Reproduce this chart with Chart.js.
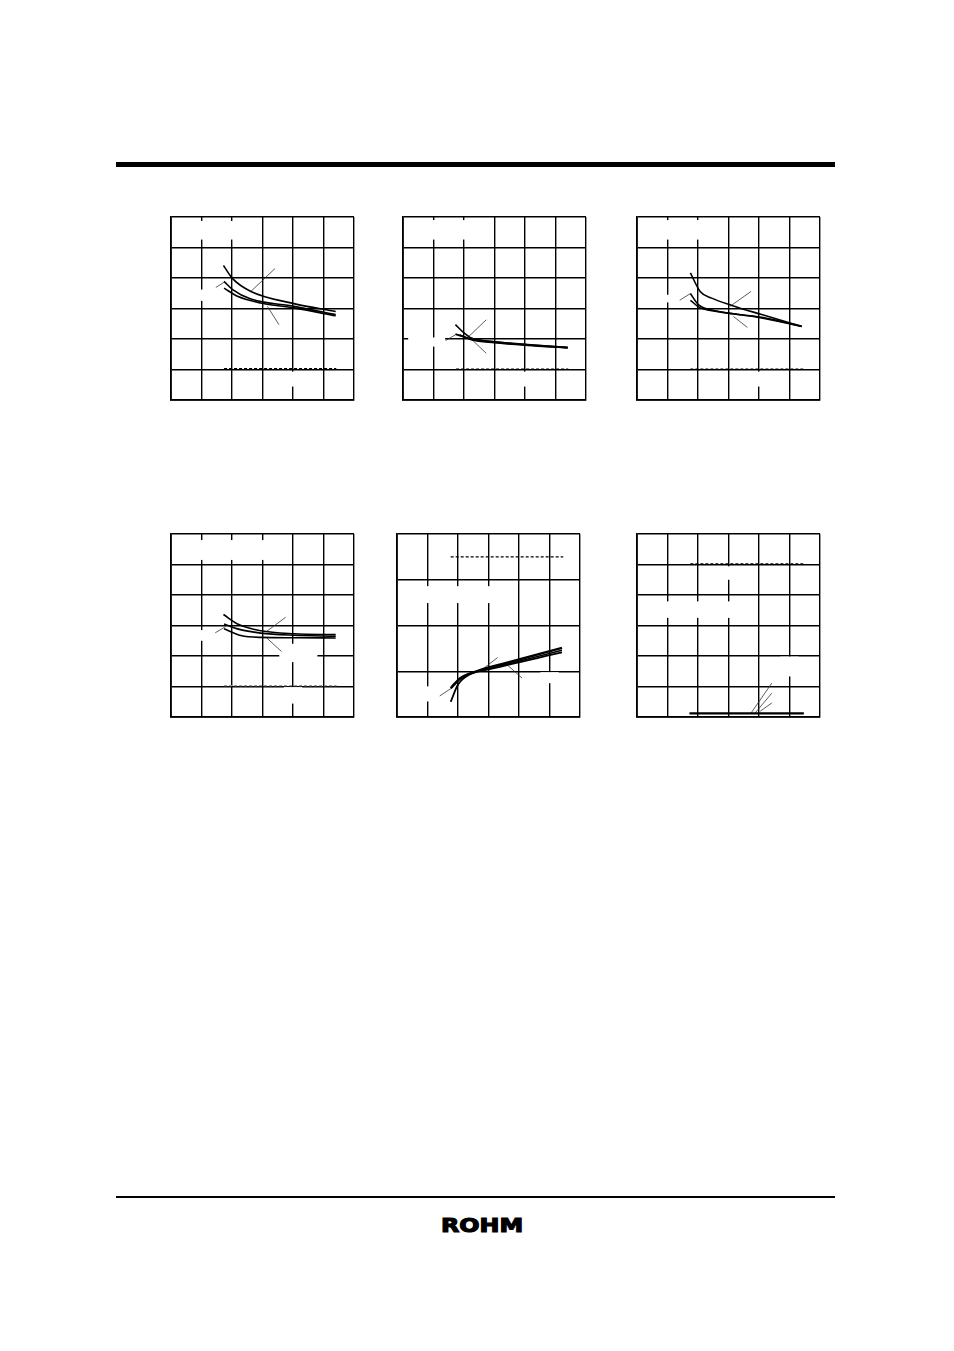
<!DOCTYPE html>
<html>
<head>
<meta charset="utf-8">
<script src="https://cdn.jsdelivr.net/npm/chart.js@4.4.1/dist/chart.umd.min.js"></script>
<style>
  html, body { margin: 0; padding: 0; background: #fff; }
  body { width: 954px; height: 1351px; position: relative; overflow: hidden; }
  .rule { position: absolute; background: #000; }
  .box { position: absolute; width: 191px; height: 191px; }
  .logo { position: absolute; left: 441px; top: 1213px; font: bold 20px "DejaVu Sans", sans-serif;
          -webkit-text-stroke: 1.2px #000; color: #000; transform: scaleX(1.19); transform-origin: left top;
          line-height: normal; }
</style>
</head>
<body>
<div class="rule" style="left:116px; top:162px; width:719px; height:5px;"></div>
<div class="rule" style="left:116px; top:1196px; width:719px; height:2px;"></div>
<div class="logo">ROHM</div>

<div class="box" style="left:167px; top:213px;"><canvas id="c1"></canvas></div>
<div class="box" style="left:399px; top:213px;"><canvas id="c2"></canvas></div>
<div class="box" style="left:633px; top:213px;"><canvas id="c3"></canvas></div>
<div class="box" style="left:167px; top:530px;"><canvas id="c4"></canvas></div>
<div class="box" style="left:393px; top:530px;"><canvas id="c5"></canvas></div>
<div class="box" style="left:633px; top:530px;"><canvas id="c6"></canvas></div>

<script>
// all values in grid units (6 divisions per axis, chart 5 has 4 rows)

// chart 1
var c1TopX = [1.72, 2.02, 2.62, 4.03, 5.40];
var c1TopY = [4.41, 3.98, 3.56, 3.16, 2.90];
var c1MidX = [1.74, 2.02, 2.62, 4.03, 5.40];
var c1MidY = [3.89, 3.62, 3.31, 3.07, 2.80];
var c1LowX = [1.74, 2.18, 2.94, 4.03, 5.40];
var c1LowY = [3.67, 3.40, 3.18, 3.02, 2.76];
var c1Limit = [[1.74, 1.03], [5.42, 1.03]];
var c1Leaders = [
  [[1.47, 3.69], [1.74, 3.86]],
  [[2.62, 3.56], [3.41, 4.31]],
  [[3.16, 3.07], [3.54, 2.47]]
];

// chart 2
var c2AX = [1.72, 2.00, 2.24, 3.00, 4.09, 5.40];
var c2AY = [2.47, 2.20, 2.03, 1.91, 1.81, 1.72];
var c2BX = [1.72, 2.24, 3.00, 4.09, 5.40];
var c2BY = [2.16, 2.00, 1.90, 1.81, 1.72];
var c2CX = [1.85, 2.24, 3.00, 4.09, 5.40];
var c2CY = [2.14, 1.98, 1.88, 1.79, 1.71];
var c2Limit = [[1.74, 1.01], [5.42, 1.01]];
var c2Leaders = [
  [[1.40, 1.95], [1.72, 2.14]],
  [[2.07, 2.00], [2.73, 2.63]],
  [[2.24, 2.00], [2.73, 1.53]]
];

// chart 3
var c3TopX = [1.75, 2.07, 2.45, 3.11, 4.09, 5.40];
var c3TopY = [4.17, 3.56, 3.34, 3.10, 2.80, 2.41];
var c3MidX = [1.75, 2.07, 2.45, 4.09, 5.40];
var c3MidY = [3.27, 3.02, 2.93, 2.69, 2.41];
var c3LowX = [1.75, 2.02, 2.45, 4.09, 5.40];
var c3LowY = [3.49, 3.12, 2.95, 2.71, 2.42];
var c3Limit = [[1.75, 1.01], [5.45, 1.01]];
var c3Leaders = [
  [[1.40, 3.27], [1.75, 3.49]],
  [[3.05, 3.07], [3.74, 3.56]],
  [[3.16, 2.74], [3.62, 2.38]]
];

// chart 4
var c4TopX = [1.72, 2.18, 2.94, 4.03, 5.40];
var c4TopY = [3.36, 3.05, 2.83, 2.73, 2.70];
var c4MidX = [1.74, 2.18, 2.94, 4.03, 5.40];
var c4MidY = [3.05, 2.89, 2.75, 2.68, 2.65];
var c4LowX = [1.74, 2.29, 2.94, 4.03, 5.40];
var c4LowY = [2.89, 2.67, 2.61, 2.60, 2.59];
var c4Limit = [[1.74, 1.03], [5.43, 1.03]];
var c4Leaders = [
  [[1.45, 2.76], [1.80, 2.97]],
  [[3.14, 2.81], [3.76, 3.27]],
  [[3.14, 2.59], [3.62, 2.15]]
];

// chart 5 (4 rows)
var c5AX = [1.76, 2.10, 2.70, 3.58, 5.41];
var c5AY = [0.63, 0.85, 1.02, 1.18, 1.51];
var c5BX = [1.76, 2.00, 2.38, 3.00, 5.41];
var c5BY = [0.33, 0.71, 0.93, 1.04, 1.41];
var c5CX = [1.80, 2.10, 2.70, 3.58, 5.41];
var c5CY = [0.68, 0.87, 1.01, 1.15, 1.46];
var c5Limit = [[1.76, 3.50], [5.45, 3.50]];
var c5Leaders = [
  [[1.40, 0.46], [1.83, 0.65]],
  [[2.76, 1.02], [3.30, 1.30]],
  [[3.63, 1.13], [4.10, 0.85]]
];

// chart 6
var c6Limit = [[1.75, 5.02], [5.45, 5.02]];
var c6Base = [[1.72, 0.12], [5.47, 0.12]];
var c6Leaders = [
  [[3.74, 0.13], [4.42, 1.11]],
  [[3.87, 0.13], [4.42, 0.78]],
  [[4.04, 0.19], [4.42, 0.46]]
];

function zip(xs, ys) {
  return xs.map(function (x, i) { return { x: x, y: ys[i] }; });
}
function pts(list) {
  return list.map(function (p) { return { x: p[0], y: p[1] }; });
}

function curve(data, w) {
  return { data: data, borderColor: '#000', borderWidth: w || 1.6, pointRadius: 0,
           cubicInterpolationMode: 'monotone', fill: false };
}
function leader(data) {
  return { data: pts(data), borderColor: '#333', borderWidth: 0.8, pointRadius: 0, fill: false };
}
function limit(data, color) {
  return { data: pts(data), borderColor: color || '#000', borderWidth: 1.3, borderDash: [3, 2],
           pointRadius: 0, fill: false };
}

// white patches where the original (unrendered) labels masked the grid, [x0, y0, x1, y1] in grid units
var blankPlugin = {
  id: 'blanks',
  beforeDatasetsDraw: function (chart, args, opts) {
    var ctx = chart.ctx, xs = chart.scales.x, ys = chart.scales.y;
    ctx.save();
    ctx.fillStyle = '#fff';
    (opts.rects || []).forEach(function (r) {
      var x0 = xs.getPixelForValue(r[0]), x1 = xs.getPixelForValue(r[2]);
      var y0 = ys.getPixelForValue(r[3]), y1 = ys.getPixelForValue(r[1]);
      ctx.fillRect(x0, y0, x1 - x0, y1 - y0);
    });
    ctx.restore();
  }
};

function makeChart(id, datasets, yMax, rects) {
  var ctx = document.getElementById(id).getContext('2d');
  var grid = { color: '#000', lineWidth: 1.4, drawTicks: false };
  var border = { color: '#000', width: 1.8 };
  return new Chart(ctx, {
    type: 'line',
    data: { datasets: datasets },
    plugins: [blankPlugin],
    options: {
      responsive: true,
      maintainAspectRatio: false,
      animation: false,
      layout: { padding: 4 },
      plugins: { legend: { display: false }, tooltip: { enabled: false }, blanks: { rects: rects || [] } },
      scales: {
        x: { type: 'linear', min: 0, max: 6, ticks: { display: false, stepSize: 1 }, grid: grid, border: border },
        y: { type: 'linear', min: 0, max: yMax || 6, ticks: { display: false, stepSize: 1 }, grid: grid, border: border }
      }
    }
  });
}

function leadersOf(list) { return list.map(leader); }

makeChart('c1', [
  curve(zip(c1TopX, c1TopY)), curve(zip(c1MidX, c1MidY)), curve(zip(c1LowX, c1LowY)),
  limit(c1Limit)
].concat(leadersOf(c1Leaders)), 6,
  [[0.7, 5.26, 2.4, 5.87], [0.7, 3.25, 1.3, 3.62], [3.7, 0.44, 4.3, 0.93]]);

makeChart('c2', [
  curve(zip(c2AX, c2AY)), curve(zip(c2BX, c2BY), 2), curve(zip(c2CX, c2CY)),
  limit(c2Limit)
].concat(leadersOf(c2Leaders)), 6,
  [[0.7, 5.26, 2.4, 5.9], [0.17, 1.75, 1.38, 2.05], [3.7, 0.44, 4.3, 0.93]]);

makeChart('c3', [
  curve(zip(c3TopX, c3TopY)), curve(zip(c3MidX, c3MidY)), curve(zip(c3LowX, c3LowY)),
  limit(c3Limit)
].concat(leadersOf(c3Leaders)), 6,
  [[0.7, 5.26, 2.4, 5.9], [0.7, 3.2, 1.3, 3.45], [3.7, 0.44, 4.3, 0.93]]);

makeChart('c4', [
  curve(zip(c4TopX, c4TopY)), curve(zip(c4MidX, c4MidY)), curve(zip(c4LowX, c4LowY)),
  limit(c4Limit, '#999')
].concat(leadersOf(c4Leaders)), 6,
  [[0.7, 5.15, 3.3, 5.8], [0.7, 2.5, 1.3, 2.85], [3.55, 1.8, 4.8, 2.4], [3.7, 0.44, 4.3, 0.98]]);

makeChart('c5', [
  curve(zip(c5AX, c5AY), 2.4), curve(zip(c5BX, c5BY), 1.8), curve(zip(c5CX, c5CY), 1.4),
  limit(c5Limit)
].concat(leadersOf(c5Leaders)), 4,
  [[0.7, 2.49, 3.3, 2.86], [0.75, 0.34, 1.25, 0.67], [4.7, 0.74, 5.3, 0.98]]);

makeChart('c6', [
  curve(pts(c6Base), 2.4),
  limit(c6Limit)
].concat(leadersOf(c6Leaders)), 6,
  [[2.7, 4.5, 3.3, 4.94], [0.7, 3.25, 3.3, 3.79], [4.7, 1.33, 5.3, 1.98]]);
</script>
</body>
</html>
